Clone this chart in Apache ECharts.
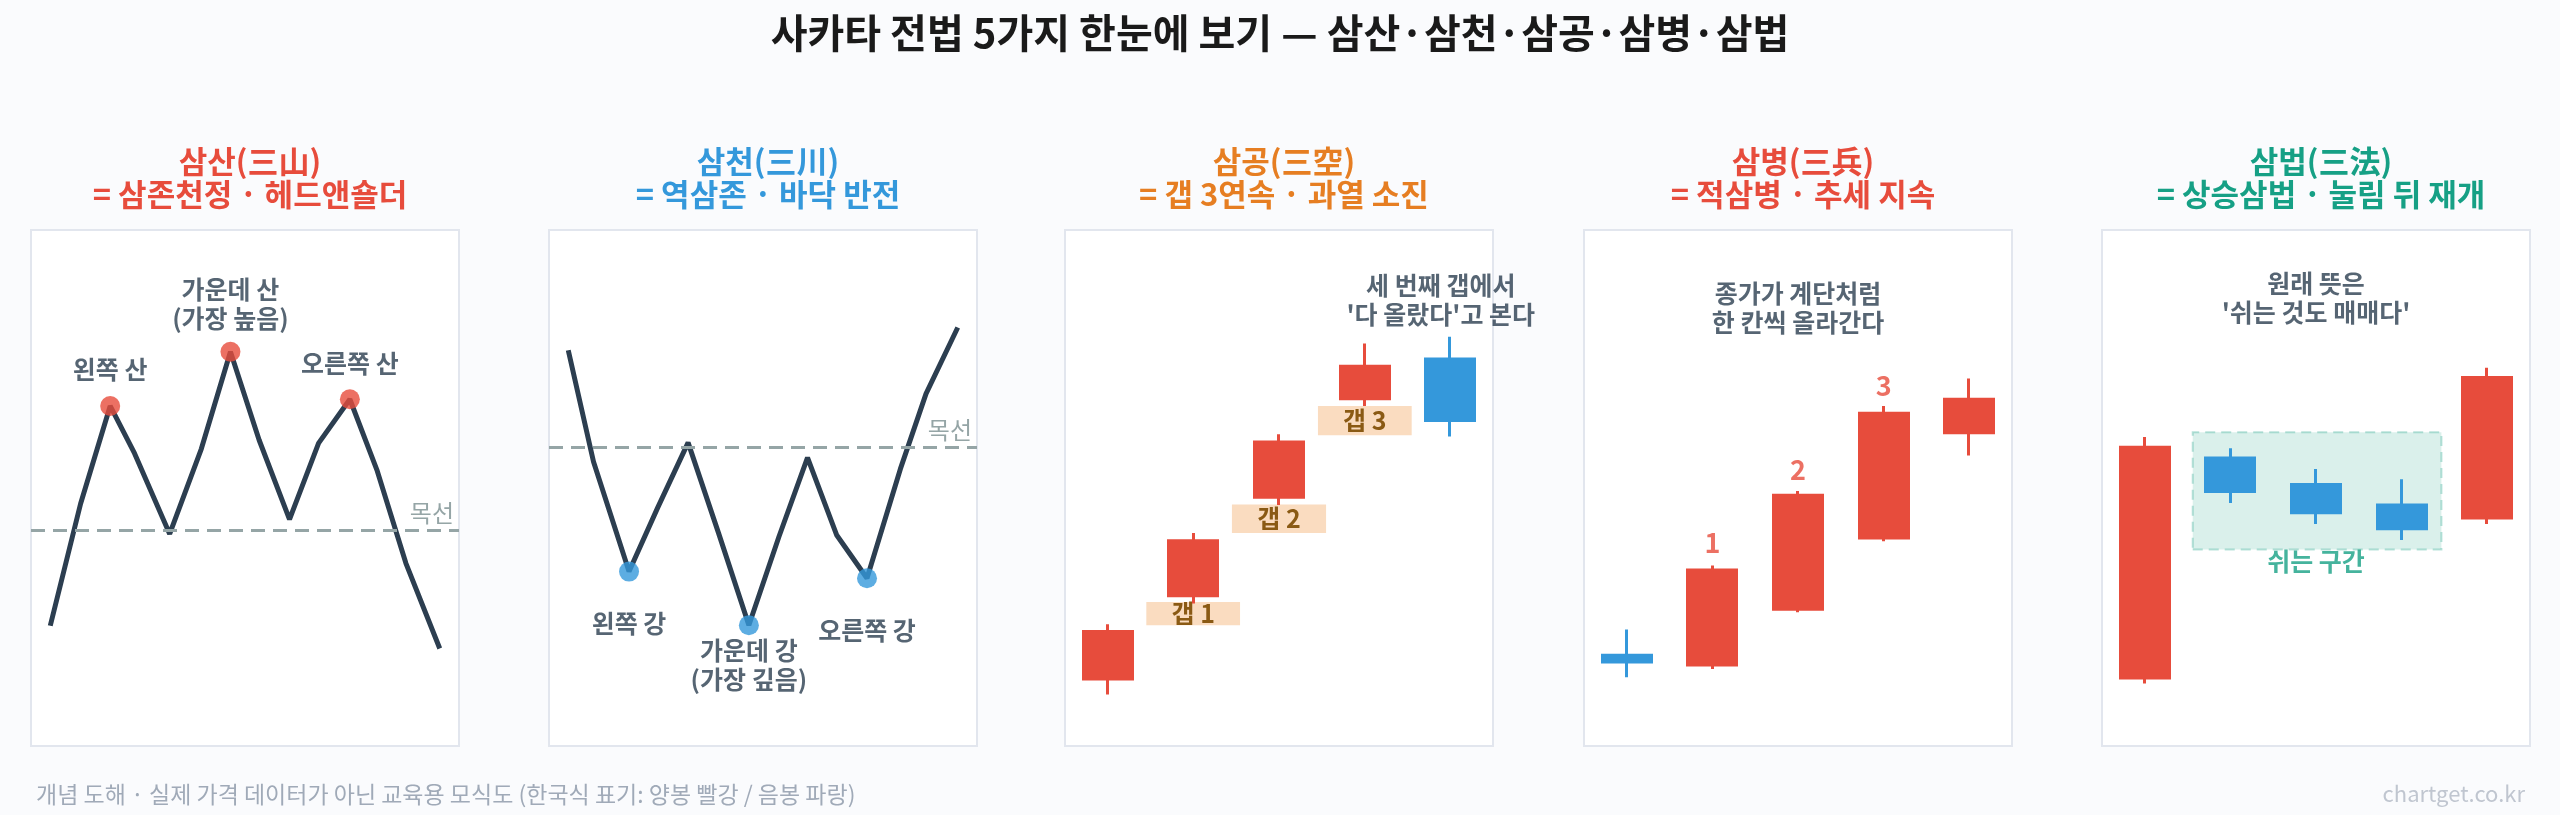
<!DOCTYPE html>
<html>
<head>
<meta charset="utf-8">
<script src="https://cdn.jsdelivr.net/npm/echarts@6/dist/echarts.min.js"></script>
<style>
  html, body { margin: 0; padding: 0; background: #fafbfd; }
  #chart { width: 2560px; height: 815px; }
</style>
</head>
<body>
<div id="chart"></div>
<script>
// 패널 1: 삼산 (x, y 0~100)
const sanX = [4.5, 11.6, 18.5, 24.2, 32.4, 39.8, 46.6, 53.3, 60.4, 67.2, 74.5, 80.9, 87.6, 95.5];
const sanY = [23.3, 47.0, 65.9, 56.7, 41.1, 57.6, 76.4, 59.3, 43.9, 58.7, 67.2, 53.3, 35.4, 18.9];
const sanNeck = 41.9;
const sanPeaks = [2, 6, 10];
// 패널 2: 삼천
const chunX = [4.5, 10.4, 18.7, 25.4, 32.5, 39.6, 46.7, 53.7, 60.4, 67.2, 74.3, 82.1, 88.1, 95.5];
const chunY = [76.7, 55.1, 33.8, 46.2, 58.8, 41.3, 23.4, 40.5, 55.9, 40.9, 32.5, 53.7, 68.3, 81.1];
const chunNeck = 57.9;
const chunLows = [2, 6, 10];
// 캔들: [open, close, low, high]
const candleCats = ['1', '2', '3', '4', '5'];
const gongCandles = [[13.0, 22.2, 10.0, 23.6], [29.1, 39.8, 27.6, 41.3], [48.2, 58.9, 46.7, 60.4], [67.3, 73.6, 65.9, 78.0], [75.0, 63.1, 60.0, 79.3]];
const gongGaps = [[19.0, 23.4, 40.9, 27.9, '갭 1'], [39.0, 41.3, 61.0, 46.8, '갭 2'], [59.1, 60.2, 81.0, 65.9, '갭 3']];
const byungCandles = [[17.6, 16.3, 13.3, 22.6], [15.7, 34.1, 14.9, 35.0], [26.5, 48.6, 25.9, 49.4], [40.3, 64.5, 39.7, 65.9], [60.7, 67.2, 56.3, 71.2]];
const byungNums = [[30, 39.3, '1'], [50, 53.5, '2'], [70, 69.9, '3']];
const bubCandles = [[13.2, 57.9, 12.1, 59.9], [55.8, 49.3, 47.1, 57.7], [50.7, 45.2, 43.0, 53.7], [46.7, 42.1, 39.9, 51.7], [44.2, 71.4, 43.0, 73.3]];
const bubRest = [21.2, 38.1, 79.3, 60.8];

const RED = '#e74c3c', BLUE = '#3498db', DARK = '#2c3e50';
const FONT = 'Noto Sans CJK KR';
const lefts = [31, 549, 1065, 1584, 2102];
const W = 428, TOP = 230, H = 516;
const heads = [
  ['삼산(三山)', '= 삼존천정 · 헤드앤숄더', RED],
  ['삼천(三川)', '= 역삼존 · 바닥 반전', BLUE],
  ['삼공(三空)', '= 갭 3연속 · 과열 소진', '#e67e22'],
  ['삼병(三兵)', '= 적삼병 · 추세 지속', RED],
  ['삼법(三法)', '= 상승삼법 · 눌림 뒤 재개', '#16a085']
];

const grid = [], xAxis = [], yAxis = [], series = [];
const title = [{
  text: '사카타 전법 5가지 한눈에 보기 — 삼산·삼천·삼공·삼병·삼법',
  left: 'center', top: 8,
  textStyle: { fontSize: 40, fontWeight: 'bold', color: '#1a1a1a', fontFamily: FONT }
}, {
  text: '개념 도해 · 실제 가격 데이터가 아닌 교육용 모식도 (한국식 표기: 양봉 빨강 / 음봉 파랑)',
  left: 31, top: 778,
  textStyle: { fontSize: 23, fontWeight: 'normal', color: '#a0aab8', fontFamily: FONT }
}, {
  text: 'chartget.co.kr', right: 30, top: 778,
  textStyle: { fontSize: 22, fontWeight: 'normal', color: '#c0c6d0', fontFamily: FONT }
}];

lefts.forEach((l, i) => {
  grid.push({ left: l, top: TOP, width: W, height: H, show: true, backgroundColor: '#fff', borderColor: '#e2e6ee', borderWidth: 2 });
  xAxis.push({ type: 'value', gridIndex: i, min: 0, max: 100, show: false });
  yAxis.push({ type: 'value', gridIndex: i, min: 0, max: 100, show: false });
  title.push({
    text: heads[i][0] + '\n' + heads[i][1],
    left: l + W / 2, top: 140, textAlign: 'center',
    textStyle: { fontSize: 31, fontWeight: 'bold', color: heads[i][2], lineHeight: 33, fontFamily: FONT }
  });
});
// 캔들용 카테고리 축 (index 5,6,7 → grid 2,3,4)
[2, 3, 4].forEach(g => xAxis.push({ type: 'category', gridIndex: g, data: candleCats, show: false }));

function texts(ax, items, style, z) {
  return {
    type: 'scatter', xAxisIndex: ax, yAxisIndex: ax, symbolSize: 0, z: z || 5, silent: true,
    data: items.map(t => ({ value: [t[0], t[1]], label: { formatter: t[2] } })),
    label: Object.assign({ show: true, position: 'inside', fontSize: 25, fontWeight: 'bold', color: DARK, lineHeight: 29, fontFamily: FONT }, style)
  };
}
function neck(v) {
  return {
    silent: true, symbol: 'none',
    lineStyle: { color: '#95a5a6', type: [14, 8], width: 3 },
    label: { position: 'insideEndTop', formatter: '목선', color: '#95a5a6', fontSize: 24, fontFamily: FONT },
    data: [{ yAxis: v }]
  };
}
function pattern(ax, xs, ys, nk, marks, col) {
  series.push({
    type: 'line', xAxisIndex: ax, yAxisIndex: ax, symbol: 'none',
    lineStyle: { color: DARK, width: 5 }, data: xs.map((x, k) => [x, ys[k]]), markLine: neck(nk)
  });
  series.push({
    type: 'scatter', xAxisIndex: ax, yAxisIndex: ax, symbolSize: 20, z: 4,
    itemStyle: { color: col }, data: marks.map(k => [xs[k], ys[k]])
  });
}
pattern(0, sanX, sanY, sanNeck, sanPeaks, RED);
series.push(texts(0, [[18.5, 73, '왼쪽 산'], [46.6, 85.6, '가운데 산\n(가장 높음)'], [74.5, 74.2, '오른쪽 산']]));
pattern(1, chunX, chunY, chunNeck, chunLows, BLUE);
series.push(texts(1, [[18.7, 23.8, '왼쪽 강'], [46.7, 15.7, '가운데 강\n(가장 깊음)'], [74.3, 22.4, '오른쪽 강']]));

function candles(ax, yi, d) {
  series.push({
    type: 'candlestick', xAxisIndex: ax, yAxisIndex: yi, barWidth: '58%', z: 3,
    itemStyle: { color: RED, color0: BLUE, borderColor: RED, borderColor0: BLUE, borderWidth: 3 },
    data: d
  });
}
candles(5, 2, gongCandles);
candles(6, 3, byungCandles);
candles(7, 4, bubCandles);

// 갭 박스
const gapSeries = texts(2, [[87.8, 86.4, '세 번째 갭에서\n\'다 올랐다\'고 본다']], {});
gapSeries.z = 1;
gapSeries.markArea = {
  silent: true,
  itemStyle: { color: '#fadcc0' },
  label: { show: true, position: 'inside', color: '#8a5a14', fontSize: 25, fontWeight: 'bold', fontFamily: FONT },
  data: gongGaps.map(g => [{ coord: [g[0], g[1]], name: g[4] }, { coord: [g[2], g[3]] }])
};
series.push(gapSeries);

series.push(texts(3, [[50, 84.8, '종가가 계단처럼\n한 칸씩 올라간다']]));
series.push(texts(3, byungNums, { color: RED, fontSize: 27 }));

const restSeries = texts(4, [[50, 86.8, '원래 뜻은\n\'쉬는 것도 매매다\''], [50, 35.8, '쉬는 구간']], {});
restSeries.data[1].label.color = '#16a085';
restSeries.markArea = {
  silent: true,
  itemStyle: { color: 'rgba(22,160,133,0.16)', borderColor: 'rgba(22,160,133,0.3)', borderWidth: 2, borderType: [10, 6] },
  data: [[{ coord: [bubRest[0], bubRest[1]] }, { coord: [bubRest[2], bubRest[3]] }]]
};
restSeries.z = 1;
series.push(restSeries);

const chart = echarts.init(document.getElementById('chart'));
chart.setOption({ backgroundColor: '#fafbfd', animation: false, title, grid, xAxis, yAxis, series });
</script>
</body>
</html>
